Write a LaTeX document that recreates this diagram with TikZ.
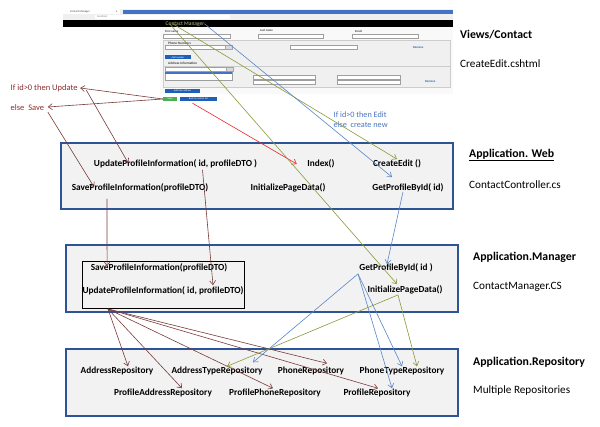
\documentclass[tikz,border=0pt]{standalone}
\usepackage{fontspec}
\setmainfont{Carlito}
\usetikzlibrary{arrows.meta,calc}
\definecolor{boxblue}{HTML}{2F5496}
\definecolor{boxgray}{HTML}{F2F2F2}
\definecolor{brn}{HTML}{7A3B3B}
\definecolor{olv}{HTML}{8A9A3C}
\definecolor{blu}{HTML}{5A86C8}
\definecolor{rd}{HTML}{E8282B}
\definecolor{annred}{HTML}{8B2E2E}
\definecolor{annblue}{HTML}{4A74C0}
\definecolor{btnblue}{HTML}{1F5FB8}
\definecolor{btngreen}{HTML}{4CAF50}
\definecolor{tabblue}{HTML}{4472C4}
\begin{document}
\begin{tikzpicture}[x=1pt,y=-1pt,
 mt/.style={font=\bfseries\fontsize{9.3}{11}\selectfont, inner sep=0.5pt, text=black},
 lab/.style={font=\bfseries\fontsize{11.8}{13}\selectfont, anchor=west, inner sep=0},
 sub/.style={font=\fontsize{11.2}{13}\selectfont, anchor=west, inner sep=0},
 layer/.style={draw=boxblue, fill=boxgray, line width=1.3pt},
 conn/.style={line width=0.6pt, -{Straight Barb[length=4pt,width=6pt]}},
 tiny/.style={font=\bfseries\fontsize{3}{3.5}\selectfont, inner sep=0, anchor=west, text=black!75},
 inp/.style={draw=gray!75, fill=white, line width=0.35pt},
 btn/.style={fill=btnblue, inner sep=0, font=\fontsize{2.5}{3}\selectfont, text=white, minimum height=4pt},
 annr/.style={font=\fontsize{8.5}{10}\selectfont, text=annred, anchor=west, inner sep=0.5pt},
 annb/.style={font=\fontsize{8.2}{10}\selectfont, text=annblue, anchor=west, inner sep=0.5pt},
]
\useasboundingbox (0,0) rectangle (600,427);
\fill[white] (0,0) rectangle (600,427);

% ---------- screenshot ----------
\fill[gray!12] (63,9) rectangle (453,20);
\fill[white] (63,9) rectangle (120,14);
\node[tiny, font=\fontsize{2.8}{3}\selectfont] (tabt) at (70,11.5) {Contact Manager};
\node[tiny, font=\fontsize{2.8}{3}\selectfont] (tabx) at (116,11.5) {x};
\fill[tabblue] (123,10.5) rectangle (453,14.5);
\fill[white] (95,15) rectangle (230,18.8);
\node[tiny, font=\fontsize{2.8}{3}\selectfont, text=gray] (url) at (97,16.9) {localhost};
\fill[black] (63,20) rectangle (453,27.5);
\node[font=\fontsize{5.5}{6}\selectfont, text=olv!60!white, inner sep=0] (cm) at (185,23.7) {Contact Manager};
\fill[gray!5] (160,27.5) rectangle (453,94);
\node[tiny] (fn) at (165,31) {First name};
\node[tiny] (ln) at (260,31) {Last name};
\node[tiny] (em) at (355,31) {Email};
\draw[inp] (163,34) rectangle (230,38.5);
\draw[inp] (258,34) rectangle (323,38.5);
\draw[inp] (352,34) rectangle (418,38.5);
\draw[gray!40, fill=gray!12, line width=0.35pt] (163,40) rectangle (450,66);
\node[tiny, font=\bfseries\fontsize{3.4}{4}\selectfont] (pn) at (168,43) {Phone Numbers};
\draw[inp] (165,45.5) rectangle (232,49.5);
\draw[gray!70, fill=gray!30, line width=0.35pt] (225,45.5) rectangle (232,49.5);
\draw[inp] (290,45.5) rectangle (357,49.5);
\node[tiny, text=btnblue] (rm1) at (413,47.5) {Remove};
\node[btn, minimum width=26pt] (addn) at (178,57.5) {Add number};
\node[tiny, font=\bfseries\fontsize{3.4}{4}\selectfont] (ai) at (168,63) {Address Information};
\draw[gray!40, fill=gray!12, line width=0.35pt] (163,66) rectangle (450,87);
\draw[inp] (165,67.5) rectangle (233,71.5);
\draw[gray!70, fill=gray!30, line width=0.35pt] (226,67.5) rectangle (233,71.5);
\draw[inp] (165,71.5) rectangle (232,80);
\fill[tabblue] (165.3,71.8) rectangle (231.7,74);
\draw[inp] (253,75) rectangle (315,79);
\draw[inp] (253,80) rectangle (315,84);
\draw[inp] (337,75) rectangle (400,79);
\draw[inp] (337,80) rectangle (400,84);
\node[tiny, text=btnblue] (rm2) at (425,82) {Remove};
\node[btn, minimum width=35pt] (adda) at (182.5,91) {Add new address};
\node[fill=btngreen, inner sep=0, minimum width=14pt, minimum height=4pt, font=\fontsize{2.5}{3}\selectfont, text=white] (savebtn) at (170,99) {Save};
\node[btn, minimum width=37pt] (backbtn) at (198.5,99) {Back to contact list};

% ---------- annotations ----------
\node[annr] (ifupd) at (10,88) {If id>0 then Update};
\node[annr] (elses) at (10,108) {else\ \ Save};
\node[annb] (ifedit) at (333,114.5) {If id>0 then Edit};
\node[annb] (elsecr) at (333,124.5) {else\ \ create new};

% ---------- layers ----------
\draw[layer] (61,143) rectangle (453,209);
\draw[layer] (66,245) rectangle (458,312);
\draw[layer] (66,349) rectangle (458,416);
\node[draw=black, line width=1pt, fill=boxgray, minimum width=162pt, minimum height=47pt, anchor=north west, inner sep=0] (mgrin) at (82,261) {};

% web
\node[mt] (webupd) at (175.5,164) {UpdateProfileInformation( id, profileDTO )};
\node[mt] (websave) at (140,188) {SaveProfileInformation(profileDTO)};
\node[mt] (webinit) at (288,188) {InitializePageData()};
\node[mt] (index) at (321,164) {Index()};
\node[mt] (webcreate) at (397,164) {CreateEdit ()};
\node[mt] (webget) at (408,188) {GetProfileById( id)};
% manager
\node[mt] (mgrsave) at (159,268) {SaveProfileInformation(profileDTO)};
\node[mt] (mgrupd) at (163,291) {UpdateProfileInformation( id, profileDTO)};
\node[mt] (mgrget) at (396,268) {GetProfileById( id )};
\node[mt] (mgrinit) at (405,290) {InitializePageData()};
% repository
\node[mt] (raddr) at (117,371) {AddressRepository};
\node[mt] (raddrt) at (217,371) {AddressTypeRepository};
\node[mt] (rphone) at (311,371) {PhoneRepository};
\node[mt] (rphonet) at (402,371) {PhoneTypeRepository};
\node[mt] (rpaddr) at (163,393) {ProfileAddressRepository};
\node[mt] (rpphone) at (275,393) {ProfilePhoneRepository};
\node[mt] (rprof) at (377,393) {ProfileRepository};

% right labels
\node[lab] (l1) at (460,35) {Views/Contact};
\node[sub] (s1) at (460,64) {CreateEdit.cshtml};
\node[lab] (l2) at (469,155) {\underline{Application. Web}};
\node[sub] (s2) at (469,185) {ContactController.cs};
\node[lab] (l3) at (473,257) {Application.Manager};
\node[sub] (s3) at (473,287) {ContactManager.CS};
\node[lab] (l4) at (473,362) {Application.Repository};
\node[sub] (s4) at (473,391) {Multiple Repositories};

% ---------- connectors ----------
\begin{scope}[conn, draw=brn]
\draw (savebtn.west) -- ([xshift=2]ifupd.east);
\draw (savebtn.west) -- ([xshift=3,yshift=1]elses.east);
\draw ([xshift=8,yshift=-2]ifupd.east) -- ([xshift=35,yshift=1]webupd.west);
\draw ([xshift=3,yshift=-4]elses.east) -- ([xshift=23,yshift=1]websave.west);
\draw ([xshift=-33,yshift=-6]websave.south) -- ([xshift=17,yshift=-3]mgrsave.north west);
\draw ([xshift=27,yshift=-1]webupd.south) -- ([xshift=50,yshift=1]mgrupd.north);
\coordinate (hub) at ([xshift=26]mgrin.south west);
\draw (hub) -- ([xshift=11]raddr.north);
\draw (hub) -- ([xshift=19]rpaddr.north);
\draw (hub) -- ([xshift=-2]rpphone.north);
\draw (hub) -- ([xshift=16,yshift=3]rphone.north);
\draw (hub) -- ([xshift=1]rprof.north);
\end{scope}
\draw[conn, draw=rd] ([xshift=-6,yshift=-2]backbtn.south) -- ([xshift=-10]index.west);
\begin{scope}[conn, draw=olv]
\draw ([xshift=4]cm.west) -- ([xshift=-8,yshift=1]mgrinit.north);
\draw ([xshift=7]cm.west) -- (webcreate.north);
\draw ([xshift=-7]mgrinit.south) -- ([xshift=10]raddrt.north);
\draw ([xshift=-7]mgrinit.south) -- ([xshift=15]rphonet.north);
\end{scope}
\begin{scope}[conn, draw=blu]
\draw (cm.east) -- ([xshift=-16,yshift=6]webget.north);
\draw ([xshift=-5,yshift=1]webget.south) -- ([xshift=-9,yshift=-1]mgrget.north);
\draw ([xshift=-38,yshift=-1]mgrget.south) -- ([xshift=36,yshift=4]raddrt.north);
\draw ([xshift=-38,yshift=-1]mgrget.south) -- (rphonet.north);
\draw ([xshift=-38,yshift=-1]mgrget.south) -- ([xshift=15]rprof.north);
\end{scope}
\end{tikzpicture}
\end{document}
